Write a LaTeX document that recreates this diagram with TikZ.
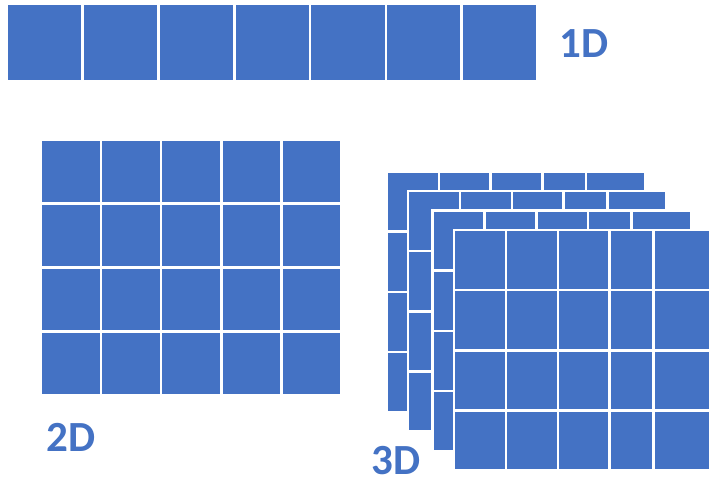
\documentclass[tikz,border=0pt]{standalone}
\usepackage{fontspec}
\setmainfont{Carlito}
\definecolor{cell}{HTML}{4472C4}
\tikzset{
  cellbox/.style={fill=cell,draw=white,line width=2.6pt},
  dimlabel/.style={font=\fontsize{43}{50}\selectfont\bfseries,text=cell,inner sep=0pt}
}

\begin{document}
\begin{tikzpicture}[x=1pt,y=-1pt]
  \useasboundingbox (0,0) rectangle (709,482);
  \clip (0,0) rectangle (709,482);

  % 1D row
  \foreach \i in {0,...,6}
    \draw[cellbox] ({6.7+75.84*\i},4) rectangle ({6.7+75.84*(\i+1)},81);
  \node[dimlabel] (lab1d) at (584,44) {1D};

  % 2D grid
  \foreach \i in {0,...,4}
    \foreach \j in {0,...,3}
      \draw[cellbox] ({40.7+60.2*\i},{139.7+64*\j}) rectangle ++(60.2,64);
  \node[dimlabel] (lab2d) at (71,437) {2D};

  % 3D stack, back layer first
  \foreach \lx/\ly in {386.8/171.4, 408/190.8, 432.4/210.4, 454/229.8}
    \foreach \ca/\cb in {0/52, 52/103.8, 103.8/155.7, 155.7/199.3, 199.3/258.7}
      \foreach \j in {0,...,3}
        \draw[cellbox] ({\lx+\ca},{\ly+60.2*\j}) rectangle ({\lx+\cb},{\ly+60.2*(\j+1)});
  \node[dimlabel] (lab3d) at (396,461) {3D};
\end{tikzpicture}
\end{document}
